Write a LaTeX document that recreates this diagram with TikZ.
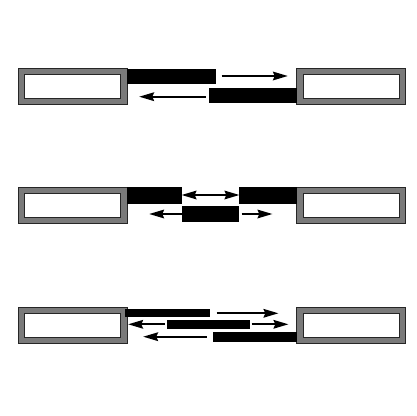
\documentclass[tikz,border=0pt]{standalone}
\usetikzlibrary{arrows.meta}
\tikzset{
  outerbox/.style={draw=black!85,line width=0.7pt,fill=black!52,inner sep=0pt,outer sep=0pt,minimum width=109pt,minimum height=36pt},
  innerbox/.style={draw=black!85,line width=0.7pt,fill=white,inner sep=0pt,outer sep=0pt,minimum width=96pt,minimum height=24pt},
  bar/.style={fill=black,inner sep=0pt,outer sep=0pt},
  tip/.tip={Stealth[length=15pt,width=9pt,inset=2pt,line width=0pt]},
  arr/.style={line width=2.3pt,-tip},
  darr/.style={line width=2.3pt,tip-tip}
}
\newcommand{\mybar}[5]{% name x1 y1 x2 y2
  \node[bar,minimum width={#4-#2},minimum height={#5-#3}] (#1) at ({(#2+#4)/2},{(#3+#5)/2}) {};}
\begin{document}
\begin{tikzpicture}[x=1pt,y=-1pt]
\useasboundingbox (0,0) rectangle (416,416);
% row boxes
\foreach \r/\yc in {a/86, b/205, c/325}{
  \node[outerbox] (L\r) at (72.5,\yc) {};
  \node[innerbox] (Li\r) at (72.5,\yc) {};
  \node[outerbox] (R\r) at (351,\yc) {};
  \node[innerbox] (Ri\r) at (351,\yc) {};
}
% row 1
\mybar{a1}{127}{69.3}{215.7}{84.3}
\mybar{a2}{209.3}{87.7}{297}{103.3}
\coordinate (a1s) at (221.7,76); \coordinate (a1e) at (287.7,76);
\coordinate (a2s) at (205.7,96.7); \coordinate (a2e) at (139.3,96.7);
\draw[arr] (a1s) -- (a1e);
\draw[arr] (a2s) -- (a2e);
% row 2
\mybar{b1}{126.7}{187.3}{181.7}{204}
\mybar{b2}{239.3}{187.3}{296.7}{204}
\mybar{b3}{182.3}{206}{239.3}{222.3}
\draw[darr] (b1.east |- 0,195) -- (b2.west |- 0,195);
\coordinate (b3l) at (149.3,214); \coordinate (b3r) at (272.3,214);
\draw[arr] (b3.west |- 0,214) ++(-0.3,0) -- (b3l);
\draw[arr] (b3.east |- 0,214) ++(2.4,0) -- (b3r);
% row 3
\mybar{c1}{125}{309.3}{210}{317.3}
\mybar{c2}{167.3}{320}{250}{329.3}
\mybar{c3}{213.3}{331.7}{296.7}{342.3}
\coordinate (c1s) at (216.7,313.3); \coordinate (c1e) at (278.3,313.3);
\coordinate (c2s) at (165,324.3); \coordinate (c2e) at (128.3,324.3);
\coordinate (c3s) at (251.7,324.3); \coordinate (c3e) at (288.3,324.3);
\coordinate (c4s) at (206.7,336.7); \coordinate (c4e) at (143.3,336.7);
\draw[arr] (c1s) -- (c1e);
\draw[arr] (c2s) -- (c2e);
\draw[arr] (c3s) -- (c3e);
\draw[arr] (c4s) -- (c4e);
\end{tikzpicture}
\end{document}
